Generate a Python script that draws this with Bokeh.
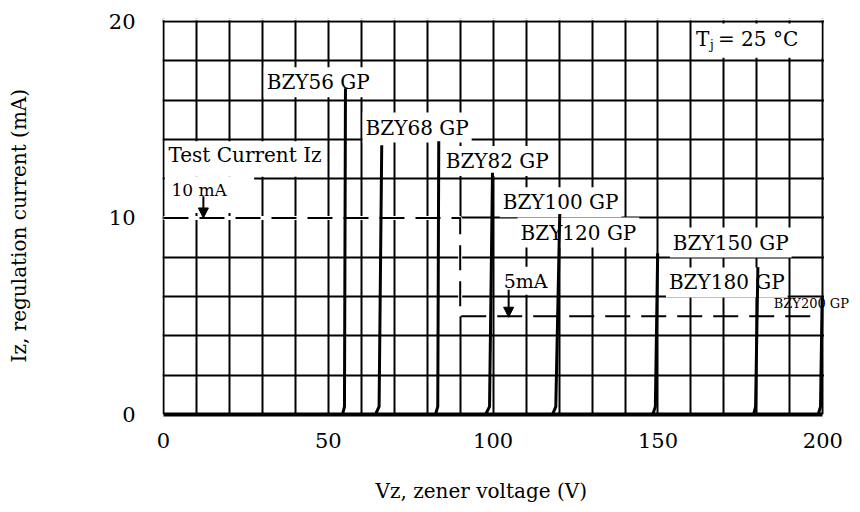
from bokeh.plotting import figure
from bokeh.models import (Range1d, FixedTicker, Label, Arrow, NormalHead,
                          BoxAnnotation, ColumnDataSource, Title)
from bokeh.embed import file_html
from bokeh.resources import INLINE

FONT = "DejaVu Serif"

# ---------------- data ----------------
x_ticks = [0, 50, 100, 150, 200]
y_ticks = [0, 10, 20]
x_grid = [0, 10, 20, 30, 40, 50, 60, 70, 80, 90, 100, 110, 120, 130, 140,
          150, 160, 170, 180, 190, 200]
y_grid = [0, 2, 4, 6, 8, 10, 12, 14, 16, 18, 20]

diodes = ["BZY56 GP", "BZY68 GP", "BZY82 GP", "BZY100 GP", "BZY120 GP",
          "BZY150 GP", "BZY180 GP", "BZY200 GP"]
# voltage where current starts (I = 0), knee point, top of the trace
v_start = [54.3, 64.3, 82.5, 97.7, 118.0, 148.4, 179.0, 198.6]
v_knee = [54.9, 65.4, 83.2, 98.9, 119.0, 149.2, 179.6, 199.3]
i_knee = [0.4, 0.4, 0.4, 0.4, 0.4, 0.4, 0.4, 0.4]
v_top = [55.2, 66.2, 83.5, 99.8, 120.2, 149.9, 180.3, 199.8]
i_top = [16.6, 13.7, 13.9, 12.3, 10.2, 8.2, 7.5, 6.0]

# test current step line (10 mA up to 90 V, then 5 mA)
test_v = [0, 90, 90, 200]
test_i = [10, 10, 5, 5]

x_title = "Vz, zener voltage (V)"
y_title = "Iz, regulation current (mA)"

# ---------------- figure ----------------
p = figure(width=852, height=504, x_range=Range1d(-0.3, 209),
           y_range=Range1d(0, 20.15),
           output_backend="svg", toolbar_location=None,
           min_border_left=162, min_border_right=0, min_border_top=18,
           min_border_bottom=90)
p.background_fill_color = "white"
p.border_fill_color = "white"
p.outline_line_color = None

p.xaxis.ticker = FixedTicker(ticks=x_ticks)
p.yaxis.ticker = FixedTicker(ticks=y_ticks)
p.xgrid.ticker = FixedTicker(ticks=x_grid)
p.ygrid.ticker = FixedTicker(ticks=y_grid)
for g in (p.xgrid, p.ygrid):
    g.grid_line_color = "black"
    g.grid_line_width = 2
    g.grid_line_alpha = 1.0

for ax in (p.xaxis, p.yaxis):
    ax.major_tick_line_color = None
    ax.minor_tick_line_color = None
    ax.major_tick_in = 0
    ax.major_tick_out = 0
    ax.major_label_text_font = FONT
    ax.major_label_text_font_size = "21px"
    ax.major_label_text_color = "black"
p.xaxis.axis_line_color = "black"
p.xaxis.axis_line_width = 4
p.xaxis.bounds = (0, 200)
p.xaxis.major_label_standoff = 18
p.yaxis.axis_line_color = None
p.yaxis.major_label_standoff = 27

title_style = dict(text_font=FONT, text_font_size="20px",
                   text_font_style="normal", text_color="black")

# x title: a spacer title then the real one, offset to the reference position
p.add_layout(Title(text=" ", text_font_size="1px", standoff=23), "below")
p.add_layout(Title(text=x_title, align="left", offset=213, standoff=0,
                   vertical_align="bottom", **title_style), "below")

# y title: spacer then the real one, starting where the reference starts
p.add_layout(Title(text=" ", text_font_size="1px", standoff=72), "left")
p.add_layout(Title(text=y_title, align="left", offset=52, standoff=0,
                   vertical_align="bottom", **title_style), "left")

# test current dashed line (white underlay hides the solid grid beneath)
p.line(test_v[:3], test_i[:3], line_color="white", line_width=4)
p.line(test_v, test_i, line_color="black", line_width=2, line_dash="25 11")

# white patches: outside the 0-200 V / 0-20 mA box, and behind composite labels
p.add_layout(BoxAnnotation(left=200.35, fill_color="white", fill_alpha=1.0,
                           line_color=None))
p.add_layout(BoxAnnotation(bottom=20.06, fill_color="white", fill_alpha=1.0,
                           line_color=None))
for (l, r, b, t) in [(0.4, 49.3, 12.1, 13.9), (0.4, 27.5, 10.25, 12.1),
                     (160.35, 199.6, 18.15, 19.9)]:
    p.add_layout(BoxAnnotation(left=l, right=r, bottom=b, top=t,
                               fill_color="white", fill_alpha=1.0,
                               line_color=None))

# diode labels
label_pos = [(30.4, 16.9), (60.4, 14.6), (84.7, 12.9), (102.0, 10.8),
             (107.4, 9.26), (153.6, 8.75), (152.4, 6.72), (185.1, 5.65)]
for name, (lx, ly) in zip(diodes, label_pos):
    small = name == "BZY200 GP"
    kw = {} if small else dict(background_fill_color="white",
                               background_fill_alpha=1.0, padding=3)
    p.add_layout(Label(x=lx, y=ly, text=name, text_font=FONT,
                       text_font_size="13px" if small else "20px",
                       text_color="black", text_align="left",
                       text_baseline="middle", **kw))


def txt(x, y, s, size, bg=False):
    kw = dict(background_fill_color="white", background_fill_alpha=1.0,
              padding=3) if bg else {}
    p.add_layout(Label(x=x, y=y, text=s, text_font=FONT, text_font_size=size,
                       text_color="black", text_align="left",
                       text_baseline="middle", **kw))


txt(1.5, 13.18, "Test Current Iz", "20px")
txt(2.4, 11.4, "10 mA", "17px")
txt(102.3, 6.8, "5mA", "19px", bg=True)
txt(161.5, 19.13, "T", "20px")
txt(165.8, 18.8, "j", "12px")
txt(168.2, 19.13, "= 25 °C", "20px")

# arrows marking test currents
for (ax_, y0, y1) in [(12.1, 11.1, 10.0), (104.7, 6.35, 4.95)]:
    p.add_layout(Arrow(end=NormalHead(size=10, fill_color="black",
                                      line_color="black"),
                       x_start=ax_, y_start=y0, x_end=ax_, y_end=y1,
                       line_color="black", line_width=2))

# zener traces (drawn on top)
src = ColumnDataSource(dict(
    xs=[[a, b, c] for a, b, c in zip(v_start, v_knee, v_top)],
    ys=[[0, k, t] for k, t in zip(i_knee, i_top)],
))
p.multi_line("xs", "ys", source=src, line_color="black", line_width=3,
             level="overlay")

open("out.html", "w").write(file_html(p, INLINE))
